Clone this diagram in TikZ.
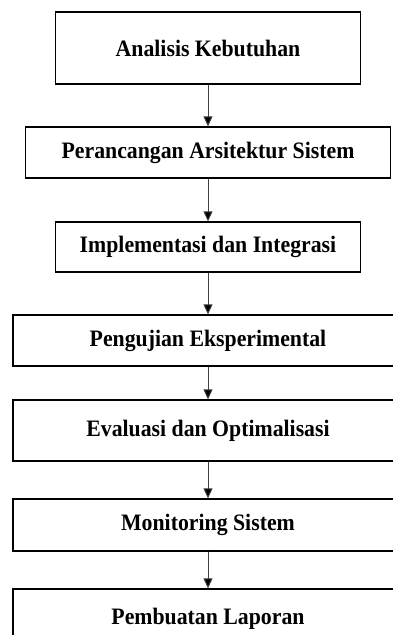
\documentclass[tikz,border=0pt]{standalone}
\usepackage{fontspec}
\usepackage{graphicx}
\setmainfont{Liberation Serif}
\usetikzlibrary{arrows.meta}
\newcommand{\tallbox}[1]{\scalebox{0.99}[1.07]{#1}}
\begin{document}
\begin{tikzpicture}[x=1pt,y=-1pt,
  stepbox/.style={draw=black,line width=1.3pt,inner sep=0pt,
    font=\fontsize{22}{26}\selectfont\bfseries,text=black},
  flow/.style={draw=black!75,line width=0.9pt,
    -{Triangle[width=9pt,length=10pt,fill=black]}}]
\useasboundingbox (0,0) rectangle (393,635);
\clip (0,0) rectangle (393,635);
\fill[white] (0,0) rectangle (393,635);
\node[stepbox,minimum width=305pt,minimum height=72pt] (b1) at (208,48) {\tallbox{Analisis Kebutuhan}};
\node[stepbox,minimum width=365pt,minimum height=51pt] (b2) at (208,152.5) {\tallbox{Perancangan Arsitektur Sistem}};
\node[stepbox,minimum width=305pt,minimum height=50pt] (b3) at (208,247) {\tallbox{Implementasi dan Integrasi}};
\node[stepbox,minimum width=390pt,minimum height=51pt] (b4) at (208,340.5) {\tallbox{Pengujian Eksperimental}};
\node[stepbox,minimum width=390pt,minimum height=61pt] (b5) at (208,430.5) {\tallbox{Evaluasi dan Optimalisasi}};
\node[stepbox,minimum width=390pt,minimum height=52pt] (b6) at (208,525) {\tallbox{Monitoring Sistem}};
\node[stepbox,minimum width=390pt,minimum height=60pt] (b7) at (208,619) {\tallbox{Pembuatan Laporan}};
\draw[flow] (b1) -- (b2);
\draw[flow] (b2) -- (b3);
\draw[flow] (b3) -- (b4);
\draw[flow] (b4) -- (b5);
\draw[flow] (b5) -- (b6);
\draw[flow] (b6) -- (b7);
\end{tikzpicture}
\end{document}
